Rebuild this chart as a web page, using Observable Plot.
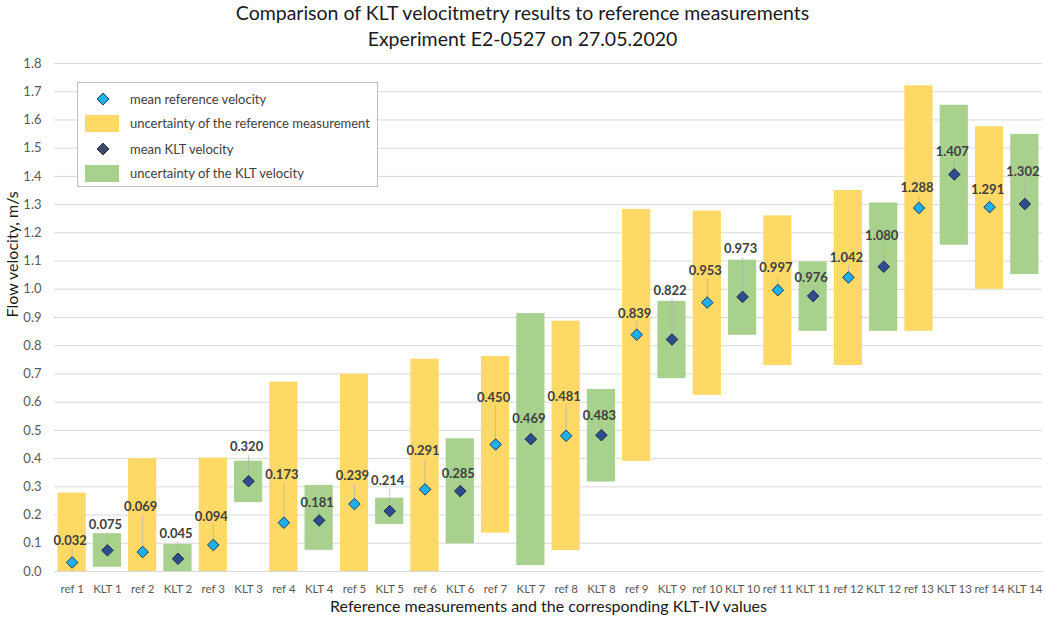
<!DOCTYPE html>
<html>
<head>
<meta charset="utf-8">
<script src="https://cdn.jsdelivr.net/npm/d3@7"></script>
<script src="https://cdn.jsdelivr.net/npm/@observablehq/plot@0.6"></script>
<style>
  html, body { margin: 0; padding: 0; background: #fff; }
  #wrap { position: relative; width: 1045px; height: 619px; font-family: Lato, "Open Sans", sans-serif; }
  #title { height: 50px; text-align: center; font-size: 19.5px; line-height: 26px; color: #1a1a1a; }
  #legend { position: absolute; left: 77px; top: 82px; width: 299px; height: 103px; border: 1px solid #BFBFBF; background: #fff; }
  .row { position: absolute; left: 0; height: 20px; width: 100%; }
  .row .txt { position: absolute; left: 52px; top: 0; line-height: 20px; font-size: 13px; color: #404040; white-space: nowrap; }
  .row .sw { position: absolute; left: 7px; top: 1.5px; width: 34px; height: 17px; }
  .row svg { position: absolute; left: 17px; top: 0; }
</style>
</head>
<body>
<div id="wrap">
  <div id="title">Comparison of KLT velocitmetry results to reference measurements<br>Experiment E2-0527 on 27.05.2020</div>
  <div id="chart"></div>
  <div id="legend"></div>
</div>
<script>
// ---- data ----
const refNames = ["ref 1","ref 2","ref 3","ref 4","ref 5","ref 6","ref 7","ref 8","ref 9","ref 10","ref 11","ref 12","ref 13","ref 14"];
const kltNames = ["KLT 1","KLT 2","KLT 3","KLT 4","KLT 5","KLT 6","KLT 7","KLT 8","KLT 9","KLT 10","KLT 11","KLT 12","KLT 13","KLT 14"];
const refMean = [0.032,0.069,0.094,0.173,0.239,0.291,0.450,0.481,0.839,0.953,0.997,1.042,1.288,1.291];
const refLow  = [0,0,0,0,0,0,0.136,0.074,0.390,0.624,0.730,0.730,0.851,1.000];
const refHigh = [0.278,0.400,0.402,0.671,0.699,0.752,0.762,0.887,1.283,1.277,1.260,1.350,1.721,1.576];
const kltMean = [0.075,0.045,0.320,0.181,0.214,0.285,0.469,0.483,0.822,0.973,0.976,1.080,1.407,1.302];
const kltLow  = [0.015,0,0.244,0.075,0.167,0.098,0.021,0.317,0.683,0.837,0.851,0.851,1.156,1.052];
const kltHigh = [0.134,0.096,0.391,0.305,0.260,0.470,0.914,0.645,0.957,1.103,1.097,1.306,1.652,1.549];
// vertical position (m/s) where each data label sits
const refLabelY = [0.110,0.228,0.195,0.343,0.340,0.426,0.616,0.620,0.914,1.067,1.076,1.112,1.359,1.351];
const kltLabelY = [0.167,0.134,0.441,0.244,0.323,0.345,0.541,0.553,0.996,1.142,1.040,1.191,1.487,1.416];
const yTicks = [0,0.1,0.2,0.3,0.4,0.5,0.6,0.7,0.8,0.9,1.0,1.1,1.2,1.3,1.4,1.5,1.6,1.7,1.8];
const legendItems = ["mean reference velocity","uncertainty of the reference measurement","mean KLT velocity","uncertainty of the KLT velocity"];

// ---- styles ----
const refFill = "#FFD966", kltFill = "#A9D18E";
const refDot = "#1CB0EC", refDotStroke = "#1F3864";
const kltDot = "#2E4D8F", kltDotStroke = "#1B2A4E";

const rows = [];
refNames.forEach((n, i) => {
  rows.push({cat: n, kind: "ref", low: refLow[i], high: refHigh[i], mean: refMean[i], labelY: refLabelY[i]});
  rows.push({cat: kltNames[i], kind: "klt", low: kltLow[i], high: kltHigh[i], mean: kltMean[i], labelY: kltLabelY[i]});
});
const categories = rows.map(d => d.cat);
const gap = 0.028; // label half-height in m/s units
const leaders = rows.filter(d => d.labelY - gap > d.mean);

const chart = Plot.plot({
  width: 1045,
  height: 569,
  marginTop: 13,
  marginBottom: 48,
  marginLeft: 54,
  marginRight: 3,
  style: {fontFamily: "Lato, 'Open Sans', sans-serif", background: "#fff"},
  x: {domain: categories, paddingInner: 0.2, paddingOuter: 0.1, round: false},
  y: {domain: [0, 1.8]},
  marks: [
    Plot.gridY(yTicks, {stroke: "#D9D9D9", strokeOpacity: 1, strokeWidth: 1}),
    Plot.barY(rows, {x: "cat", y1: "low", y2: "high", fill: d => d.kind === "ref" ? refFill : kltFill}),
    Plot.link(leaders, {x1: "cat", x2: "cat", y1: d => d.labelY - gap, y2: "mean", stroke: "#AFAFAF", strokeWidth: 0.7}),
    Plot.dot(rows, {x: "cat", y: "mean", symbol: d3.symbolDiamond2, r: 5.2,
      fill: d => d.kind === "ref" ? refDot : kltDot,
      stroke: d => d.kind === "ref" ? refDotStroke : kltDotStroke, strokeWidth: 1}),
    Plot.text(rows, {x: "cat", y: "labelY", dx: -2, text: d => d.mean.toFixed(3), fontSize: 13, fontWeight: "bold", fill: "#404040"}),
    Plot.axisY(yTicks, {tickSize: 0, tickPadding: 13, tickFormat: d => d.toFixed(1), fontSize: 13, color: "#595959", label: null}),
    Plot.axisX({tickSize: 0, tickPadding: 13, fontSize: 11.5, color: "#595959", label: null}),
    Plot.text(["Flow velocity, m/s"], {frameAnchor: "left", dx: -42, rotate: -90, fontSize: 16, fill: "#1a1a1a"}),
    Plot.text(["Reference measurements and the corresponding KLT-IV values"], {frameAnchor: "bottom", dy: 40, fontSize: 16, fill: "#1a1a1a"})
  ]
});
document.getElementById("chart").appendChild(chart);

// ---- legend ----
const legend = document.getElementById("legend");
const rowTops = [6, 30, 56, 80];
const diamond = (fill, stroke) => `<svg width="16" height="20" viewBox="-8 -10 16 20"><path d="M0,-6L6,0L0,6L-6,0Z" fill="${fill}" stroke="${stroke}" stroke-width="1"/></svg>`;
const markers = [diamond(refDot, refDotStroke), `<div class="sw" style="background:${refFill}"></div>`,
                 diamond("#3B4A66", "#2A3550"), `<div class="sw" style="background:${kltFill}"></div>`];
legendItems.forEach((t, i) => {
  const r = document.createElement("div");
  r.className = "row";
  r.style.top = rowTops[i] + "px";
  r.innerHTML = markers[i] + `<span class="txt">${t}</span>`;
  legend.appendChild(r);
});
</script>
</body>
</html>
